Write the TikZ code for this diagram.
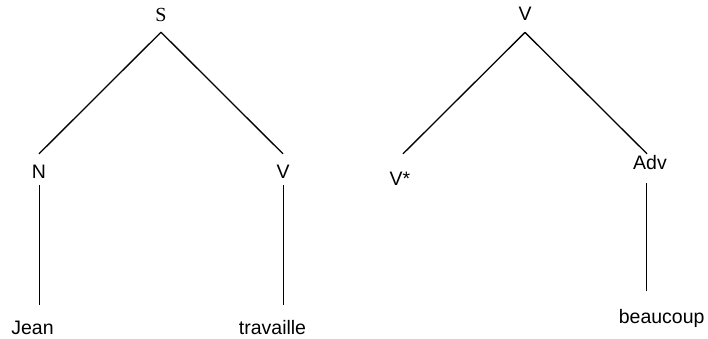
\documentclass[tikz,border=0pt]{standalone}
\usepackage{fontspec}
\setmainfont{Liberation Sans}
\newfontfamily\serifface{Liberation Serif}
\begin{document}
\begin{tikzpicture}[x=1pt,y=-1pt,
  lbl/.style={inner sep=0pt, anchor=base, font=\fontsize{19.5}{22}\selectfont, text height=14pt, text depth=4pt},
  flat/.style={text depth=0pt},
  edge/.style={line width=1.3pt, black}]
\useasboundingbox (0,0) rectangle (708,338);
% left tree
\node[lbl, font=\serifface\fontsize{20}{22}\selectfont] (S) at (161,21.5) {S};
\node[lbl] (N) at (39,178) {N};
\node[lbl] (VL) at (283,178) {V};
\node[lbl, flat] (Jean) at (32.5,334) {Jean};
\node[lbl, flat] (trav) at (272.5,334) {travaille};
\draw[edge] ([xshift=0.25pt,yshift=-3pt]N.south) -- ([xshift=0.25pt,yshift=15pt]N.south |- Jean.north);
\draw[edge] ([xshift=0.25pt,yshift=-3pt]VL.south) -- ([xshift=0.25pt,yshift=15pt]VL.south |- trav.north);
\draw[edge] ([yshift=-6.5pt]S.south) -- ([yshift=10pt]N.north);
\draw[edge] ([yshift=-6.5pt]S.south) -- ([yshift=10pt]VL.north);
% right tree
\node[lbl] (V0) at (525,20.7) {V};
\node[lbl] (Vs) at (400,185) {V*};
\node[lbl] (Adv) at (650,169) {Adv};
\node[lbl] (Bc) at (661.7,323) {beaucoup};
\draw[edge] ([yshift=-7.5pt]V0.south) -- ([xshift=3pt,yshift=17pt]Vs.north);
\draw[edge] ([yshift=-7.5pt]V0.south) -- ([xshift=-3pt,yshift=1pt]Adv.north);
\draw[edge] ([xshift=-3.75pt,yshift=-10pt]Adv.south) -- ([xshift=-3.75pt,yshift=18pt]Adv.south |- Bc.north);
\end{tikzpicture}
\end{document}
